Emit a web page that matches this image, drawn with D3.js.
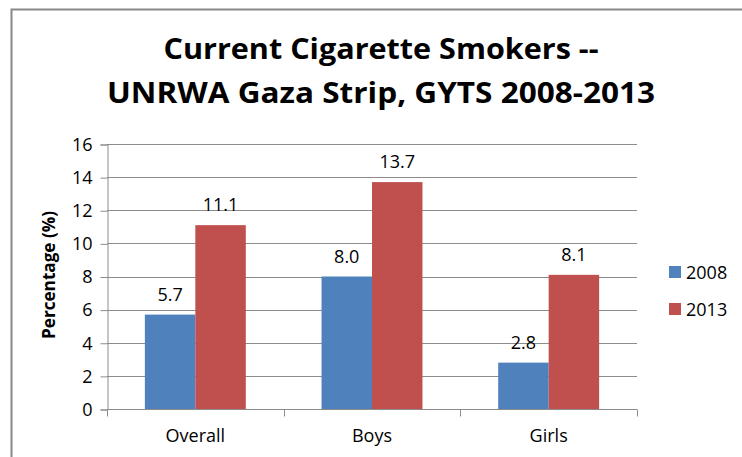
<!DOCTYPE html>
<html>
<head>
<meta charset="utf-8">
<script src="https://cdn.jsdelivr.net/npm/d3@7"></script>
<style>
  body { margin: 0; background: #fff; }
  text { font-family: "Open Sans", "Liberation Sans", sans-serif; fill: #000; }
</style>
</head>
<body>
<svg id="chart" width="742" height="457"></svg>
<script>
// data
var categories = ["Overall", "Boys", "Girls"];
var seriesNames = ["2008", "2013"];
var values2008 = [5.7, 8.0, 2.8];
var values2013 = [11.1, 13.7, 8.1];
var yTicks = [0, 2, 4, 6, 8, 10, 12, 14, 16];
var titleLines = ["Current Cigarette Smokers --", "UNRWA Gaza Strip, GYTS 2008-2013"];

var colors = ["#4F81BD", "#C0504D"];
var svg = d3.select("#chart");

// frame of the chart area
svg.append("path")
  .attr("d", "M11.5,457 V9.5 H742")
  .attr("fill", "none")
  .attr("stroke", "#888")
  .attr("stroke-width", 2);

var plotLeft = 107, plotRight = 637, plotTop = 144, plotBottom = 409;

var x = d3.scaleBand().domain(categories).range([plotLeft, plotRight]);
var y = d3.scaleLinear().domain([0, 16]).range([plotBottom, plotTop]);
var bw = x.bandwidth() / 3.5;
var xs = d3.scaleBand().domain(seriesNames).range([0.75 * bw, 2.75 * bw]);

// gridlines
svg.append("g").selectAll("line")
  .data(yTicks.filter(d => d > 0))
  .enter().append("line")
  .attr("x1", plotLeft).attr("x2", plotRight)
  .attr("y1", d => Math.round(y(d)) + 0.5).attr("y2", d => Math.round(y(d)) + 0.5)
  .attr("stroke", "#8c8c8c").attr("stroke-width", 1);

// y axis
var yAxis = svg.append("g")
  .attr("transform", "translate(" + (plotLeft + 0.5) + ",0.5)")
  .call(d3.axisLeft(y).tickValues(yTicks).tickSize(7).tickPadding(8));
yAxis.select(".domain").attr("stroke", "#8c8c8c");
yAxis.selectAll(".tick line").attr("stroke", "#8c8c8c");
yAxis.selectAll("text").style("font-size", "18px").attr("fill", "#000")
  .style("font-family", "'Open Sans', sans-serif");

// bars
var series = [values2008, values2013];
series.forEach(function(vals, si) {
  var g = svg.append("g");
  g.selectAll("rect").data(vals).enter().append("rect")
    .attr("x", (d, i) => x(categories[i]) + xs(seriesNames[si]))
    .attr("width", xs.bandwidth())
    .attr("y", d => y(d))
    .attr("height", d => y(0) - y(d))
    .attr("fill", colors[si]);
  g.selectAll("text").data(vals).enter().append("text")
    .attr("x", (d, i) => x(categories[i]) + xs(seriesNames[si]) + xs.bandwidth() / 2)
    .attr("y", d => y(d) - 14)
    .attr("text-anchor", "middle")
    .style("font-size", "18px")
    .text(d => d.toFixed(1));
});

// x axis
var xAxis = svg.append("g")
  .attr("transform", "translate(0," + (plotBottom + 0.5) + ")");
xAxis.append("line").attr("x1", plotLeft).attr("x2", plotRight)
  .attr("stroke", "#8c8c8c");
xAxis.selectAll("line.tk")
  .data([plotLeft, x("Boys"), x("Girls"), plotRight])
  .enter().append("line")
  .attr("x1", d => Math.round(d) + 0.5).attr("x2", d => Math.round(d) + 0.5)
  .attr("y1", 0).attr("y2", 7)
  .attr("stroke", "#8c8c8c");
xAxis.selectAll("text").data(categories).enter().append("text")
  .attr("x", d => x(d) + x.bandwidth() / 2)
  .attr("y", 32)
  .attr("text-anchor", "middle")
  .style("font-size", "18px")
  .text(d => d);

// y axis title
svg.append("text")
  .attr("transform", "translate(55,275) rotate(-90)")
  .attr("text-anchor", "middle")
  .attr("textLength", 128)
  .attr("lengthAdjust", "spacingAndGlyphs")
  .style("font-size", "17px")
  .style("font-weight", "bold")
  .text("Percentage (%)");

// title
var titleWidths = [435, 548];
svg.append("g").selectAll("text").data(titleLines).enter().append("text")
  .attr("x", 381)
  .attr("y", (d, i) => 59 + i * 44)
  .attr("text-anchor", "middle")
  .attr("textLength", (d, i) => titleWidths[i])
  .attr("lengthAdjust", "spacingAndGlyphs")
  .style("font-size", "29px")
  .style("font-weight", "bold")
  .text(d => d);

// legend
var legend = svg.append("g").selectAll("g").data(seriesNames).enter().append("g")
  .attr("transform", (d, i) => "translate(669," + (266 + i * 37) + ")");
legend.append("rect").attr("width", 12).attr("height", 12)
  .attr("fill", (d, i) => colors[i]);
legend.append("text").attr("x", 17).attr("y", 12.5)
  .style("font-size", "18px")
  .text(d => d);
</script>
</body>
</html>
